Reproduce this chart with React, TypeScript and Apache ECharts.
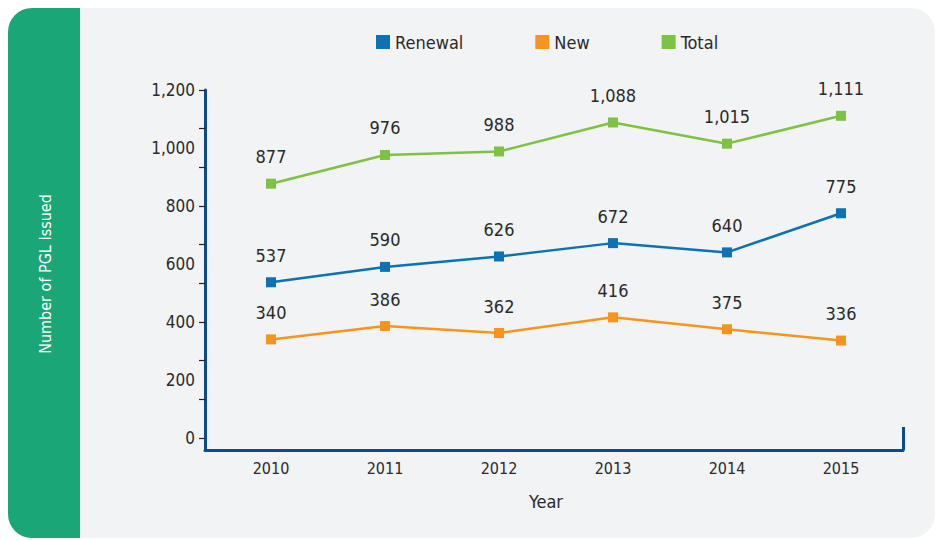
import React, { useEffect, useRef } from "react";
import * as echarts from "echarts";

const years = ["2010", "2011", "2012", "2013", "2014", "2015"];
const renewal = [537, 590, 626, 672, 640, 775];
const newer = [340, 386, 362, 416, 375, 336];
const total = [877, 976, 988, 1088, 1015, 1111];

const FONT = "'Liberation Sans Narrow', 'DejaVu Sans Condensed', 'Noto Sans', sans-serif";
const AXIS_BLUE = "#0b4a8b";
const TXT = "#2a2a2a";

export default function App() {
  const ref = useRef<HTMLDivElement>(null);
  useEffect(() => {
    if (!ref.current) return;
    const chart = echarts.init(ref.current, undefined, { renderer: "svg" });
    const mkSeries = (name: string, data: number[], color: string) => ({
      name,
      type: "line",
      data,
      xAxisIndex: 0,
      yAxisIndex: 0,
      symbol: "rect",
      symbolSize: 10,
      lineStyle: { color, width: 2.5 },
      itemStyle: { color },
      label: {
        show: true,
        position: "top",
        distance: 13,
        fontSize: 18,
        fontFamily: FONT,
        color: TXT,
        formatter: (p: any) => Number(p.value).toLocaleString("en-US"),
      },
      z: 5,
    });
    chart.setOption({
      animation: false,
      textStyle: { fontFamily: FONT },
      graphic: [
        { type: "rect", shape: { x: 8, y: 8, width: 927, height: 530, r: 24 }, style: { fill: "#f2f3f5" }, z: -10 },
        { type: "rect", shape: { x: 8, y: 8, width: 72, height: 530, r: [24, 0, 0, 24] }, style: { fill: "#1aa677" }, z: -9 },
        {
          type: "text",
          x: 45,
          y: 274,
          rotation: Math.PI / 2,
          style: {
            text: "Number of PGL Issued",
            fill: "#ffffff",
            fontSize: 16,
            fontFamily: FONT,
            align: "center",
            verticalAlign: "middle",
          },
          z: 10,
        },
      ],
      title: {
        text: "Year",
        left: 541,
        top: 487,
        textAlign: "center",
        textStyle: { fontSize: 18, fontWeight: "normal", color: TXT, fontFamily: FONT },
      },
      legend: {
        left: 371,
        top: 28,
        icon: "rect",
        itemWidth: 14,
        itemHeight: 14,
        itemGap: 72,
        textStyle: { fontSize: 18, color: TXT, fontFamily: FONT },
        data: ["Renewal", "New", "Total"],
      },
      grid: [
        { left: 214, right: 38, top: 90, bottom: 102 },
        { left: 205, right: 33, top: 90, bottom: 90 },
      ],
      xAxis: [
        {
          gridIndex: 0,
          type: "category",
          data: years,
          boundaryGap: true,
          axisLine: { show: false },
          axisTick: { show: false },
          axisLabel: { margin: 22, fontSize: 16, color: TXT, fontFamily: FONT },
        },
        {
          gridIndex: 1,
          type: "value",
          min: 0,
          max: 1,
          interval: 1,
          axisLine: { show: true, lineStyle: { color: AXIS_BLUE, width: 3 } },
          axisTick: { show: true, inside: true, length: 23, lineStyle: { color: AXIS_BLUE, width: 3 } },
          axisLabel: { show: false },
          splitLine: { show: false },
        },
      ],
      yAxis: [
        {
          gridIndex: 0,
          type: "value",
          position: "left",
          min: 0,
          max: 1200,
          interval: 200,
          offset: 9,
          axisLine: { show: false },
          axisTick: { show: false },
          splitLine: { show: false },
          axisLabel: {
            margin: 10,
            fontSize: 17,
            color: TXT,
            fontFamily: FONT,
            formatter: (v: number) => v.toLocaleString("en-US"),
          },
        },
        {
          gridIndex: 0,
          type: "value",
          position: "left",
          min: 0,
          max: 1200,
          interval: 1200 / 9,
          offset: 9,
          axisLine: { show: false },
          axisTick: { show: true, length: 6, lineStyle: { color: "#222", width: 1.2 } },
          axisLabel: { show: false },
          splitLine: { show: false },
        },
        {
          gridIndex: 1,
          type: "value",
          position: "left",
          min: 0,
          max: 1,
          axisLine: { show: true, lineStyle: { color: AXIS_BLUE, width: 3 } },
          axisTick: { show: false },
          axisLabel: { show: false },
          splitLine: { show: false },
        },
      ],
      series: [
        mkSeries("Renewal", renewal, "#0a72b5"),
        mkSeries("New", newer, "#f7941d"),
        mkSeries("Total", total, "#7dc242"),
      ],
    });
    return () => chart.dispose();
  }, []);
  return (
    <div style={{ position: "fixed", left: 0, top: 0, width: 936, height: 540, background: "#ffffff" }}>
      <div ref={ref} style={{ width: 936, height: 540 }} />
    </div>
  );
}
